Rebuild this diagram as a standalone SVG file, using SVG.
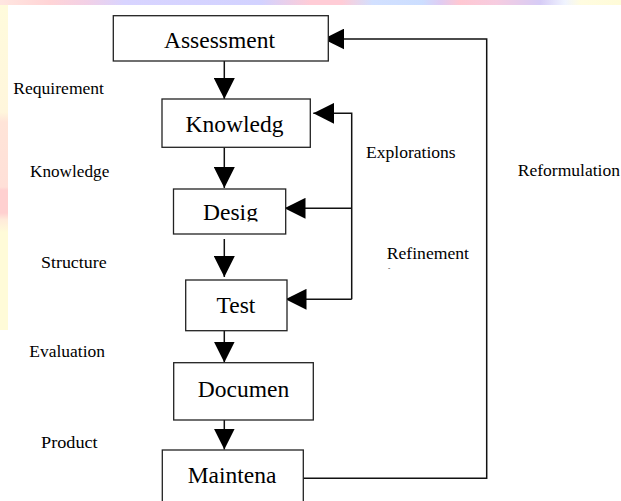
<svg xmlns="http://www.w3.org/2000/svg" width="621" height="501" viewBox="0 0 621 501">
  <defs>
    <linearGradient id="topband" x1="0" y1="0" x2="621" y2="0" gradientUnits="userSpaceOnUse">
      <stop offset="0" stop-color="#FFE6E0"/>
      <stop offset="0.08" stop-color="#FFD4D6"/>
      <stop offset="0.14" stop-color="#F2D0E6"/>
      <stop offset="0.2" stop-color="#D8D4FF"/>
      <stop offset="0.42" stop-color="#D2D2FF"/>
      <stop offset="0.5" stop-color="#FFCCD6"/>
      <stop offset="0.55" stop-color="#FFCCD6"/>
      <stop offset="0.6" stop-color="#D2E0FF"/>
      <stop offset="0.68" stop-color="#CCDEFF"/>
      <stop offset="0.71" stop-color="#E0CCF2"/>
      <stop offset="0.74" stop-color="#FFC8D2"/>
      <stop offset="0.8" stop-color="#F6CCE0"/>
      <stop offset="0.87" stop-color="#D6CCF6"/>
      <stop offset="0.91" stop-color="#F0F4FF"/>
      <stop offset="0.935" stop-color="#FFFCE0"/>
      <stop offset="1" stop-color="#FFFBD8"/>
    </linearGradient>
    <linearGradient id="leftband" x1="0" y1="5" x2="0" y2="330" gradientUnits="userSpaceOnUse">
      <stop offset="0" stop-color="#FFFBDC"/>
      <stop offset="0.33" stop-color="#FFF6DC"/>
      <stop offset="0.36" stop-color="#FFE4D8"/>
      <stop offset="0.56" stop-color="#FFE0D8"/>
      <stop offset="0.57" stop-color="#FFD0D0"/>
      <stop offset="0.64" stop-color="#FFD0D0"/>
      <stop offset="0.66" stop-color="#FFEADA"/>
      <stop offset="0.7" stop-color="#FFFBD8"/>
      <stop offset="1" stop-color="#FFFBD8"/>
    </linearGradient>
    <marker id="ah" viewBox="0 0 21 21" refX="21" refY="10.5" markerWidth="21" markerHeight="21" markerUnits="userSpaceOnUse" orient="auto">
      <path d="M0,0 L21,10.5 L0,21 z" fill="#000"/>
    </marker>
    <clipPath id="desigclip">
      <rect x="174" y="189" width="111" height="32.5"/>
    </clipPath>
    <style>
      .box { fill: #fff; stroke: #222; stroke-width: 1.3; }
      .btxt { font-family: 'Liberation Serif', 'Times New Roman', serif; font-size: 23.5px; fill: #000; text-anchor: middle; }
      .lbl { font-family: 'Liberation Serif', 'Times New Roman', serif; font-size: 17.5px; fill: #000; }
      .con { fill: none; stroke: #111; stroke-width: 1.5; }
      .arr { marker-end: url(#ah); }
    </style>
  </defs>

  <rect x="0" y="0" width="621" height="501" fill="#fff"/>
  <rect x="0" y="0" width="621" height="5" fill="url(#topband)"/>
  <rect x="0" y="5" width="8" height="325" fill="url(#leftband)"/>

  <g id="connectors">
    <path class="con arr" d="M224.3,61 V99"/>
    <path class="con arr" d="M224.3,147.3 V188"/>
    <path class="con arr" d="M224.3,239 V277"/>
    <path class="con arr" d="M224.3,330.7 V362.5"/>
    <path class="con arr" d="M224.3,420 V449.5"/>
    <path class="con arr" d="M351.7,299.3 V113.3 H313.3"/>
    <path class="con arr" d="M351.7,208.3 H284.5"/>
    <path class="con arr" d="M351.7,299.3 H285.5"/>
    <path class="con arr" d="M303.3,478.3 H486.7 V39 H323.3"/>
  </g>

  <g id="assessment">
    <rect class="box" x="113.3" y="15.7" width="215" height="45.3"/>
    <text class="btxt" x="219.5" y="48.3" font-family="Liberation Serif">Assessment</text>
  </g>
  <g id="knowledg">
    <rect class="box" x="162" y="99" width="148.3" height="48.3"/>
    <text class="btxt" x="234.5" y="131.7" font-family="Liberation Serif">Knowledg</text>
  </g>
  <g id="desig">
    <rect class="box" x="173.5" y="189" width="112.2" height="45"/>
    <text class="btxt" x="230.5" y="220" font-family="Liberation Serif" clip-path="url(#desigclip)">Desig</text>
  </g>
  <g id="test">
    <rect class="box" x="185.7" y="280" width="101.3" height="50.7"/>
    <text class="btxt" x="236" y="313.3" font-family="Liberation Serif">Test</text>
  </g>
  <g id="documen">
    <rect class="box" x="173.7" y="362.7" width="139.6" height="57.3"/>
    <text class="btxt" x="243.5" y="397.3" font-family="Liberation Serif">Documen</text>
  </g>
  <g id="maintena">
    <rect class="box" x="162.3" y="450" width="141" height="60"/>
    <text class="btxt" x="232" y="483.3" font-family="Liberation Serif">Maintena</text>
  </g>

  <g id="labels" font-family="Liberation Serif">
    <text class="lbl" x="13.3" y="94.3" textLength="90.7" lengthAdjust="spacingAndGlyphs">Requirement</text>
    <text class="lbl" x="30" y="177.3" textLength="79.3" lengthAdjust="spacingAndGlyphs">Knowledge</text>
    <text class="lbl" x="41" y="268.3" textLength="65.7" lengthAdjust="spacingAndGlyphs">Structure</text>
    <text class="lbl" x="29.3" y="356.7" textLength="75.7" lengthAdjust="spacingAndGlyphs">Evaluation</text>
    <text class="lbl" x="41" y="448.3" textLength="56.7" lengthAdjust="spacingAndGlyphs">Product</text>
    <text class="lbl" x="366" y="158.3" textLength="89.7" lengthAdjust="spacingAndGlyphs">Explorations</text>
    <text class="lbl" x="386.7" y="259.3" textLength="82.3" lengthAdjust="spacingAndGlyphs">Refinement</text>
    <text class="lbl" x="388" y="270" style="font-size:7px">-</text>
    <text class="lbl" x="517.7" y="176" textLength="102.3" lengthAdjust="spacingAndGlyphs">Reformulation</text>
  </g>
</svg>
